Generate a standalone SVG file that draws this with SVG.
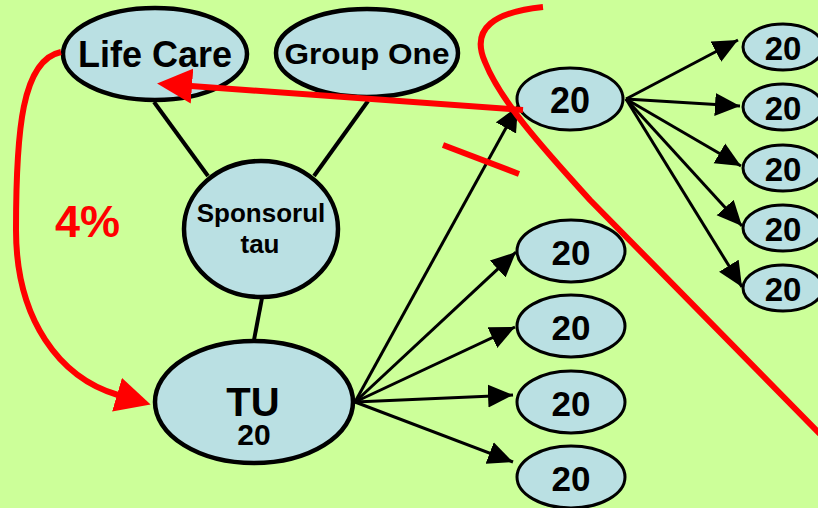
<svg xmlns="http://www.w3.org/2000/svg" width="818" height="508" viewBox="0 0 818 508">
<defs>
<style>
.bg{fill:#CCFF99}
.node{fill:#BAE0E3;stroke:#000;stroke-width:4.5}
.small{fill:#BAE0E3;stroke:#000;stroke-width:3}
.t{font-family:"Liberation Sans",Arial,sans-serif;font-weight:bold;fill:#000;text-anchor:middle}
.link{stroke:#000;stroke-width:4;fill:none}
.arr{stroke:#000;stroke-width:3;fill:none;marker-end:url(#ah)}
.red{stroke:#FF0000;stroke-width:6;fill:none}
</style>
<marker id="ah" markerUnits="userSpaceOnUse" viewBox="0 -12 25 24" refX="25" refY="0" markerWidth="25" markerHeight="24" orient="auto">
<path d="M0,-11.5 L25,0 L0,11.5 z" fill="#000"/>
</marker>
<marker id="rah" markerUnits="userSpaceOnUse" viewBox="0 -18 36 36" refX="1" refY="0" markerWidth="36" markerHeight="36" orient="auto">
<path d="M0,-17.5 L35,0 L0,17.5 z" fill="#FF0000"/>
</marker>
</defs>
<rect class="bg" x="0" y="0" width="818" height="508"/>

<g id="connectors">
<line class="link" x1="154" y1="102" x2="208" y2="176"/>
<line class="link" x1="368" y1="101" x2="314" y2="176"/>
<line class="link" x1="262" y1="298" x2="254" y2="340"/>
<line class="arr" x1="355" y1="402" x2="518" y2="106"/>
<line class="arr" x1="355" y1="402" x2="516" y2="252"/>
<line class="arr" x1="355" y1="402" x2="515" y2="327"/>
<line class="arr" x1="355" y1="402" x2="513" y2="395"/>
<line class="arr" x1="355" y1="402" x2="513" y2="462"/>
<line class="arr" x1="626" y1="99" x2="738" y2="40"/>
<line class="arr" x1="626" y1="99" x2="740" y2="106"/>
<line class="arr" x1="626" y1="99" x2="741" y2="166"/>
<line class="arr" x1="626" y1="99" x2="742" y2="226"/>
<line class="arr" x1="626" y1="99" x2="742" y2="287"/>
</g>

<g id="n-lifecare"><ellipse class="node" cx="155" cy="54" rx="92" ry="46"/><text class="t" x="155" y="67" font-size="36">Life Care</text></g>
<g id="n-groupone"><ellipse class="node" cx="367" cy="53" rx="91" ry="44"/><text class="t" x="367" y="64" font-size="30" textLength="165" lengthAdjust="spacingAndGlyphs">Group One</text></g>
<g id="n-sponsor"><ellipse class="node" cx="261" cy="229" rx="77" ry="68"/><text class="t" x="261" y="222" font-size="26">Sponsorul</text><text class="t" x="260" y="253" font-size="26">tau</text></g>
<g id="n-tu"><ellipse class="node" cx="254" cy="402" rx="99" ry="61"/><text class="t" x="253" y="416" font-size="40">TU</text><text class="t" x="254" y="445" font-size="30">20</text></g>

<g id="n-a"><ellipse class="small" cx="570" cy="99" rx="53" ry="31"/><text class="t" x="570" y="113" font-size="36">20</text></g>
<g id="n-b"><ellipse class="small" cx="571" cy="251" rx="54" ry="31"/><text class="t" x="571" y="265" font-size="35">20</text></g>
<g id="n-c"><ellipse class="small" cx="571" cy="326" rx="54" ry="31"/><text class="t" x="571" y="340" font-size="35">20</text></g>
<g id="n-d"><ellipse class="small" cx="571" cy="402" rx="54" ry="31"/><text class="t" x="571" y="416" font-size="35">20</text></g>
<g id="n-e"><ellipse class="small" cx="571" cy="477" rx="54" ry="31"/><text class="t" x="571" y="491" font-size="35">20</text></g>

<g id="n-r1"><ellipse class="small" cx="783" cy="47" rx="40" ry="23"/><text class="t" x="783" y="60" font-size="33">20</text></g>
<g id="n-r2"><ellipse class="small" cx="783" cy="107" rx="40" ry="23"/><text class="t" x="783" y="120" font-size="33">20</text></g>
<g id="n-r3"><ellipse class="small" cx="783" cy="168" rx="40" ry="23"/><text class="t" x="783" y="181" font-size="33">20</text></g>
<g id="n-r4"><ellipse class="small" cx="783" cy="228" rx="40" ry="23"/><text class="t" x="783" y="241" font-size="33">20</text></g>
<g id="n-r5"><ellipse class="small" cx="783" cy="288" rx="40" ry="23"/><text class="t" x="783" y="301" font-size="33">20</text></g>

<g id="red-marks">
<path class="red" d="M61,52 C22,60 16,130 16,230 C16,320 60,378 118,395" marker-end="url(#rah)"/>
<line class="red" x1="523" y1="110" x2="191" y2="86" marker-end="url(#rah)"/>
<line class="red" x1="443" y1="145" x2="519" y2="174"/>
<path class="red" d="M543,7 C495,12 470,28 485,62 C500,100 540,145 590,200 L822,436"/>
<text x="55" y="237" font-family="Liberation Sans,Arial,sans-serif" font-weight="bold" font-size="45" fill="#FF0000">4%</text>
</g>
</svg>
